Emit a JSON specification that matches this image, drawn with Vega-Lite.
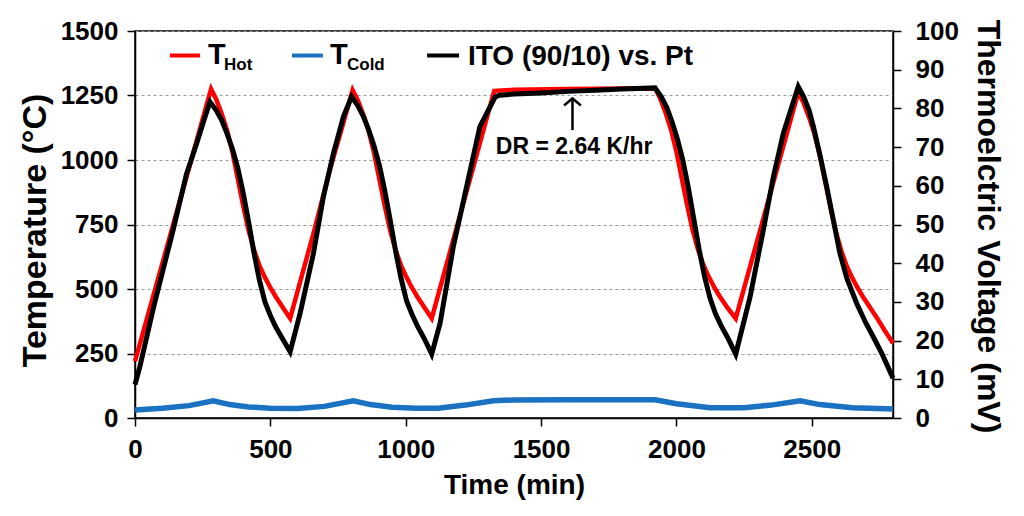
{
  "$schema": "https://vega.github.io/schema/vega-lite/v6.json",
  "width": 758,
  "height": 387,
  "autosize": {"type": "none"},
  "padding": {"left": 135, "top": 31, "right": 131, "bottom": 98},
  "background": "white",
  "datasets": {
    "hot": [
      {"time": 0, "temp": 220},
      {"time": 281, "temp": 1275},
      {"time": 300, "temp": 1235},
      {"time": 320, "temp": 1180},
      {"time": 340, "temp": 1115},
      {"time": 360, "temp": 1030},
      {"time": 380, "temp": 925},
      {"time": 400, "temp": 820},
      {"time": 420, "temp": 725},
      {"time": 440, "temp": 650},
      {"time": 460, "temp": 590},
      {"time": 480, "temp": 545},
      {"time": 500, "temp": 505},
      {"time": 520, "temp": 470},
      {"time": 545, "temp": 430},
      {"time": 573, "temp": 386},
      {"time": 659, "temp": 715},
      {"time": 720, "temp": 962},
      {"time": 804, "temp": 1271},
      {"time": 823, "temp": 1232},
      {"time": 843, "temp": 1177},
      {"time": 863, "temp": 1112},
      {"time": 883, "temp": 1028},
      {"time": 903, "temp": 923},
      {"time": 923, "temp": 820},
      {"time": 943, "temp": 725},
      {"time": 963, "temp": 650},
      {"time": 983, "temp": 590},
      {"time": 1003, "temp": 545},
      {"time": 1023, "temp": 505},
      {"time": 1043, "temp": 470},
      {"time": 1068, "temp": 430},
      {"time": 1096, "temp": 386},
      {"time": 1327, "temp": 1268},
      {"time": 1400, "temp": 1272},
      {"time": 1600, "temp": 1275},
      {"time": 1800, "temp": 1277},
      {"time": 1921, "temp": 1278},
      {"time": 1940, "temp": 1238},
      {"time": 1960, "temp": 1183},
      {"time": 1980, "temp": 1117},
      {"time": 2000, "temp": 1032},
      {"time": 2020, "temp": 927},
      {"time": 2040, "temp": 822},
      {"time": 2060, "temp": 727},
      {"time": 2080, "temp": 652},
      {"time": 2100, "temp": 592},
      {"time": 2120, "temp": 546},
      {"time": 2140, "temp": 506},
      {"time": 2160, "temp": 471},
      {"time": 2187, "temp": 430},
      {"time": 2219, "temp": 386},
      {"time": 2450, "temp": 1262},
      {"time": 2469, "temp": 1223},
      {"time": 2489, "temp": 1168},
      {"time": 2509, "temp": 1104},
      {"time": 2529, "temp": 1021},
      {"time": 2549, "temp": 918},
      {"time": 2569, "temp": 816},
      {"time": 2589, "temp": 722},
      {"time": 2609, "temp": 648},
      {"time": 2629, "temp": 589},
      {"time": 2649, "temp": 544},
      {"time": 2669, "temp": 505},
      {"time": 2689, "temp": 470},
      {"time": 2714, "temp": 430},
      {"time": 2742, "temp": 386},
      {"time": 2770, "temp": 338},
      {"time": 2800, "temp": 290}
    ],
    "cold": [
      {"time": 0, "temp": 31},
      {"time": 100, "temp": 38},
      {"time": 200, "temp": 48},
      {"time": 289, "temp": 67},
      {"time": 350, "temp": 52},
      {"time": 420, "temp": 43},
      {"time": 500, "temp": 38},
      {"time": 600, "temp": 37},
      {"time": 700, "temp": 45},
      {"time": 806, "temp": 67},
      {"time": 870, "temp": 52},
      {"time": 950, "temp": 42},
      {"time": 1040, "temp": 38},
      {"time": 1120, "temp": 38},
      {"time": 1220, "temp": 50},
      {"time": 1324, "temp": 67},
      {"time": 1400, "temp": 70},
      {"time": 1600, "temp": 71},
      {"time": 1800, "temp": 71},
      {"time": 1921, "temp": 71},
      {"time": 2000, "temp": 55},
      {"time": 2124, "temp": 40},
      {"time": 2250, "temp": 40},
      {"time": 2350, "temp": 50},
      {"time": 2457, "temp": 67},
      {"time": 2530, "temp": 52},
      {"time": 2650, "temp": 40},
      {"time": 2800, "temp": 35}
    ],
    "volt": [
      {"time": 0, "mv": 8.6},
      {"time": 18, "mv": 13.3},
      {"time": 70, "mv": 29},
      {"time": 141, "mv": 48.6},
      {"time": 190, "mv": 63},
      {"time": 228, "mv": 71},
      {"time": 255, "mv": 77},
      {"time": 277, "mv": 81.7},
      {"time": 300, "mv": 79.5},
      {"time": 320, "mv": 77},
      {"time": 340, "mv": 73.5},
      {"time": 360, "mv": 69.5},
      {"time": 380, "mv": 64.5},
      {"time": 400, "mv": 58},
      {"time": 420, "mv": 50.5},
      {"time": 440, "mv": 42.5},
      {"time": 460, "mv": 35.5},
      {"time": 480, "mv": 30},
      {"time": 500, "mv": 26.5},
      {"time": 520, "mv": 23.5},
      {"time": 545, "mv": 20.5},
      {"time": 573, "mv": 17.1},
      {"time": 610, "mv": 27.1},
      {"time": 659, "mv": 42.5},
      {"time": 696, "mv": 57.2},
      {"time": 733, "mv": 68.4},
      {"time": 770, "mv": 77.9},
      {"time": 800, "mv": 83.0},
      {"time": 823, "mv": 80.7},
      {"time": 843, "mv": 78},
      {"time": 863, "mv": 74.5},
      {"time": 883, "mv": 70.3},
      {"time": 903, "mv": 65.2},
      {"time": 923, "mv": 58.6},
      {"time": 943, "mv": 51},
      {"time": 963, "mv": 43},
      {"time": 983, "mv": 36},
      {"time": 1003, "mv": 30.3},
      {"time": 1023, "mv": 26.8},
      {"time": 1043, "mv": 23.8},
      {"time": 1068, "mv": 20.6},
      {"time": 1096, "mv": 16.5},
      {"time": 1127, "mv": 24.5},
      {"time": 1176, "mv": 44.3},
      {"time": 1225, "mv": 59.8},
      {"time": 1274, "mv": 75.3},
      {"time": 1330, "mv": 82.9},
      {"time": 1345, "mv": 83.4},
      {"time": 1400, "mv": 83.7},
      {"time": 1500, "mv": 84.0},
      {"time": 1600, "mv": 84.4},
      {"time": 1700, "mv": 84.7},
      {"time": 1800, "mv": 85.0},
      {"time": 1921, "mv": 85.3},
      {"time": 1944, "mv": 83},
      {"time": 1964, "mv": 80.3},
      {"time": 1984, "mv": 76.5},
      {"time": 2004, "mv": 72},
      {"time": 2024, "mv": 66.5},
      {"time": 2044, "mv": 59.5},
      {"time": 2064, "mv": 51.5},
      {"time": 2084, "mv": 43.5},
      {"time": 2104, "mv": 36.5},
      {"time": 2124, "mv": 31},
      {"time": 2144, "mv": 27},
      {"time": 2164, "mv": 24},
      {"time": 2189, "mv": 20.8},
      {"time": 2219, "mv": 16.5},
      {"time": 2272, "mv": 31.3},
      {"time": 2321, "mv": 48.6},
      {"time": 2358, "mv": 62.3},
      {"time": 2395, "mv": 73.6},
      {"time": 2450, "mv": 85.6},
      {"time": 2470, "mv": 83},
      {"time": 2490, "mv": 79.5},
      {"time": 2506, "mv": 75.3},
      {"time": 2530, "mv": 68},
      {"time": 2555, "mv": 59.8},
      {"time": 2580, "mv": 51},
      {"time": 2604, "mv": 42.5},
      {"time": 2630, "mv": 36},
      {"time": 2666, "mv": 29.6},
      {"time": 2700, "mv": 24.5},
      {"time": 2727, "mv": 21},
      {"time": 2760, "mv": 16.5},
      {"time": 2800, "mv": 10.3}
    ]
  },
  "layer": [
    {
      "layer": [
        {
          "data": {"name": "cold"},
          "mark": {"type": "line", "strokeWidth": 5.5, "color": "#1b72c2"},
          "encoding": {
            "x": {
              "field": "time",
              "type": "quantitative",
              "scale": {"domain": [0, 2800], "nice": false},
              "axis": {
                "title": "Time (min)",
                "values": [0, 500, 1000, 1500, 2000, 2500],
                "format": "d",
                "labelFlush": false,
                "labelPadding": 10,
                "titleFontSize": 28,
                "titleY": 75,
                "titleBaseline": "alphabetic"
              }
            },
            "y": {
              "field": "temp",
              "type": "quantitative",
              "scale": {"domain": [0, 1500], "nice": false},
              "axis": {
                "title": "Temperature (°C)",
                "orient": "left",
                "values": [0, 250, 500, 750, 1000, 1250, 1500],
                "format": "d",
                "grid": true,
                "gridDash": [3, 3],
                "gridColor": "#9a9a9a",
                "gridWidth": 1,
                "labelPadding": 9,
                "titleFontSize": 34,
                "titleAngle": 270,
                "titleX": -90,
                "titleY": 199,
                "titleAlign": "center",
                "titleBaseline": "alphabetic"
              }
            }
          }
        },
        {
          "data": {"name": "hot"},
          "mark": {"type": "line", "strokeWidth": 4.5, "color": "#ff0000"},
          "encoding": {
            "x": {"field": "time", "type": "quantitative", "title": "Time (min)"},
            "y": {"field": "temp", "type": "quantitative", "title": "Temperature (°C)"}
          }
        },
        {
          "data": {"values": [{}]},
          "mark": {"type": "rule", "strokeWidth": 4, "color": "#ff0000"},
          "encoding": {"x": {"datum": 129, "type": "quantitative"}, "x2": {"datum": 240}, "y": {"datum": 1405, "type": "quantitative"}}
        },
        {
          "data": {"values": [{}]},
          "mark": {"type": "rule", "strokeWidth": 4, "color": "#1b72c2"},
          "encoding": {"x": {"datum": 580, "type": "quantitative"}, "x2": {"datum": 694}, "y": {"datum": 1405, "type": "quantitative"}}
        },
        {
          "data": {"values": [{}]},
          "mark": {"type": "rule", "strokeWidth": 4, "color": "#000"},
          "encoding": {"x": {"datum": 1079, "type": "quantitative"}, "x2": {"datum": 1197}, "y": {"datum": 1405, "type": "quantitative"}}
        },
        {
          "data": {"values": [{}]},
          "mark": {"type": "text", "text": "T", "align": "left", "baseline": "alphabetic", "fontSize": 29, "fontWeight": "bold", "font": "Liberation Sans", "color": "#000"},
          "encoding": {"x": {"datum": 270, "type": "quantitative"}, "y": {"datum": 1372, "type": "quantitative"}}
        },
        {
          "data": {"values": [{}]},
          "mark": {"type": "text", "text": "Hot", "align": "left", "baseline": "alphabetic", "fontSize": 17, "fontWeight": "bold", "font": "Liberation Sans", "color": "#000"},
          "encoding": {"x": {"datum": 329, "type": "quantitative"}, "y": {"datum": 1349, "type": "quantitative"}}
        },
        {
          "data": {"values": [{}]},
          "mark": {"type": "text", "text": "T", "align": "left", "baseline": "alphabetic", "fontSize": 29, "fontWeight": "bold", "font": "Liberation Sans", "color": "#000"},
          "encoding": {"x": {"datum": 720, "type": "quantitative"}, "y": {"datum": 1372, "type": "quantitative"}}
        },
        {
          "data": {"values": [{}]},
          "mark": {"type": "text", "text": "Cold", "align": "left", "baseline": "alphabetic", "fontSize": 17, "fontWeight": "bold", "font": "Liberation Sans", "color": "#000"},
          "encoding": {"x": {"datum": 783, "type": "quantitative"}, "y": {"datum": 1349, "type": "quantitative"}}
        },
        {
          "data": {"values": [{}]},
          "mark": {"type": "text", "text": "ITO (90/10) vs. Pt", "align": "left", "baseline": "alphabetic", "fontSize": 28, "fontWeight": "bold", "font": "Liberation Sans", "color": "#000"},
          "encoding": {"x": {"datum": 1230, "type": "quantitative"}, "y": {"datum": 1368, "type": "quantitative"}}
        },
        {
          "data": {"values": [{}]},
          "mark": {"type": "rule", "strokeWidth": 2.5, "color": "#000"},
          "encoding": {"x": {"datum": 1616, "type": "quantitative"}, "y": {"datum": 1116, "type": "quantitative"}, "y2": {"datum": 1236}}
        },
        {
          "data": {"values": [{}]},
          "mark": {"type": "point", "shape": "M-1,0.85L0,0L1,0.85", "filled": false, "size": 280, "strokeWidth": 2.5, "color": "#000", "opacity": 1},
          "encoding": {"x": {"datum": 1616, "type": "quantitative"}, "y": {"datum": 1239, "type": "quantitative"}}
        },
        {
          "data": {"values": [{}]},
          "mark": {"type": "text", "text": "DR = 2.64 K/hr", "align": "center", "baseline": "alphabetic", "fontSize": 23, "fontWeight": "bold", "font": "Liberation Sans", "color": "#000"},
          "encoding": {"x": {"datum": 1622, "type": "quantitative"}, "y": {"datum": 1023, "type": "quantitative"}}
        }
      ]
    },
    {
      "data": {"name": "volt"},
      "mark": {"type": "line", "strokeWidth": 5, "color": "#000"},
      "encoding": {
        "x": {
          "field": "time",
          "type": "quantitative",
          "scale": {"domain": [0, 2800], "nice": false},
          "title": "Time (min)"
        },
        "y": {
          "field": "mv",
          "type": "quantitative",
          "scale": {"domain": [0, 100], "nice": false},
          "axis": {
            "title": "Thermoelctric Voltage (mV)",
            "orient": "right",
            "values": [0, 10, 20, 30, 40, 50, 60, 70, 80, 90, 100],
            "format": "d",
            "grid": false,
            "labelPadding": 14,
            "titleFontSize": 32,
            "titleAngle": 90,
            "titleX": 84,
            "titleY": 195,
            "titleAlign": "center",
            "titleBaseline": "alphabetic"
          }
        }
      }
    }
  ],
  "resolve": {"scale": {"y": "independent"}},
  "config": {
    "font": "Liberation Sans",
    "view": {"stroke": "#000", "strokeWidth": 1.5},
    "axis": {
      "labelFont": "Liberation Sans",
      "labelFontWeight": "bold",
      "labelFontSize": 26,
      "labelColor": "#000",
      "labelOverlap": false,
      "titleFont": "Liberation Sans",
      "titleFontWeight": "bold",
      "titleColor": "#000",
      "domainColor": "#000",
      "domainWidth": 1.5,
      "tickColor": "#000",
      "tickWidth": 1.5,
      "tickSize": 8,
      "grid": false
    }
  }
}
